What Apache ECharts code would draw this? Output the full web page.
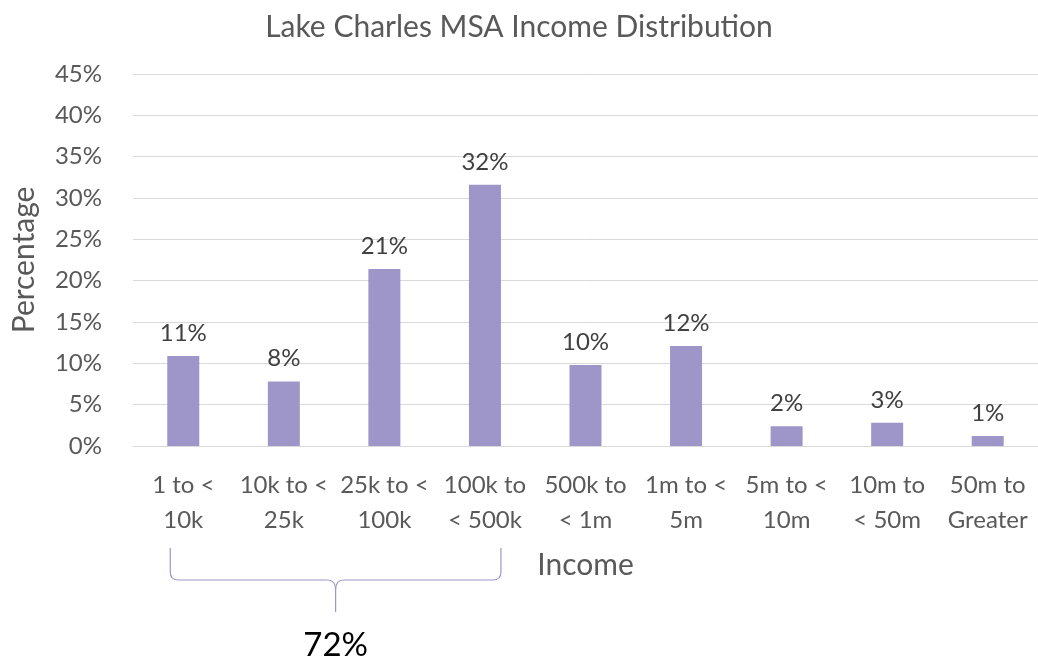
<!DOCTYPE html>
<html>
<head>
<meta charset="utf-8">
<script src="https://cdn.jsdelivr.net/npm/echarts@6/dist/echarts.min.js"></script>
<style>
html,body{margin:0;padding:0;background:#fff;}
#chart{width:1038px;height:661px;}
</style>
</head>
<body>
<div id="chart"></div>
<script>
var categories = ["1 to <\n10k", "10k to <\n25k", "25k to <\n100k", "100k to\n< 500k", "500k to\n< 1m", "1m to <\n5m", "5m to <\n10m", "10m to\n< 50m", "50m to\nGreater"];
var percentages = [10.9, 7.8, 21.4, 31.6, 9.8, 12.1, 2.4, 2.8, 1.2];
var yTicks = [0, 5, 10, 15, 20, 25, 30, 35, 40, 45];
var braceFrom = 0, braceTo = 3;
var braceLabel = "72%";

var FONT = "Lato, 'Open Sans', sans-serif";
var TXT = "#595959";
var BAR = "#9e95c8";

var chart = echarts.init(document.getElementById('chart'), null, {renderer: 'canvas'});
chart.setOption({
  animation: false,
  title: {
    text: "Lake Charles MSA Income Distribution",
    left: 'center', top: 7,
    textStyle: {fontFamily: FONT, fontSize: 30, fontWeight: 'normal', color: TXT}
  },
  grid: {left: 133, right: 0, top: 74, bottom: 215, containLabel: false},
  xAxis: {
    type: 'category',
    data: categories,
    name: "Income",
    nameLocation: 'middle',
    nameGap: 119,
    nameMoveOverlap: false,
    nameTextStyle: {fontFamily: FONT, fontSize: 30, color: TXT, verticalAlign: 'middle'},
    axisLine: {show: true, lineStyle: {color: '#d9d9d9', width: 1}},
    axisTick: {show: false},
    axisLabel: {interval: 0, margin: 22, fontFamily: FONT, fontSize: 24, color: TXT, lineHeight: 35, align: 'center'}
  },
  yAxis: {
    type: 'value',
    min: yTicks[0], max: yTicks[yTicks.length - 1], interval: yTicks[1] - yTicks[0],
    name: "Percentage",
    nameLocation: 'middle',
    nameGap: 109,
    nameMoveOverlap: false,
    nameRotate: 90,
    nameTextStyle: {fontFamily: FONT, fontSize: 30, color: TXT, verticalAlign: 'middle'},
    axisLine: {show: false},
    axisTick: {show: false},
    splitLine: {lineStyle: {color: '#d9d9d9', width: 1}},
    axisLabel: {margin: 31, fontFamily: FONT, fontSize: 24, color: TXT, formatter: function (v) { return v + '%'; }}
  },
  series: [{
    type: 'bar',
    data: percentages,
    barWidth: 32,
    itemStyle: {color: BAR},
    label: {
      show: true, position: 'top', distance: 11,
      fontFamily: FONT, fontSize: 24, color: '#404040',
      formatter: function (p) { return Math.round(p.value) + '%'; }
    }
  }]
});

function drawBrace() {
  var x1 = chart.convertToPixel({xAxisIndex: 0}, braceFrom) - 13;
  var x2 = chart.convertToPixel({xAxisIndex: 0}, braceTo) + 16;
  var xm = (x1 + x2) / 2;
  var yTop = 548, yMid = 580, yBot = 612, r = 8;
  var ls = {stroke: BAR, lineWidth: 1.2, fill: null};
  function line(ax, ay, bx, by) { return {type: 'line', shape: {x1: ax, y1: ay, x2: bx, y2: by}, style: ls}; }
  function curve(ax, ay, cx, cy, bx, by) { return {type: 'bezierCurve', shape: {x1: ax, y1: ay, cpx1: cx, cpy1: cy, x2: bx, y2: by}, style: ls}; }
  chart.setOption({
    graphic: [
      line(x1, yTop, x1, yMid - r),
      curve(x1, yMid - r, x1, yMid, x1 + r, yMid),
      line(x1 + r, yMid, xm - r, yMid),
      curve(xm - r, yMid, xm, yMid, xm, yMid + r + 2),
      curve(xm + r, yMid, xm, yMid, xm, yMid + r + 2),
      line(xm, yMid + r + 2, xm, yBot),
      line(xm + r, yMid, x2 - r, yMid),
      curve(x2 - r, yMid, x2, yMid, x2, yMid - r),
      line(x2, yMid - r, x2, yTop),
      {type: 'text', x: xm, y: 645, style: {text: braceLabel, fontFamily: FONT, fontSize: 33, fill: '#000', align: 'center', verticalAlign: 'middle'}}
    ]
  });
}
drawBrace();
</script>
</body>
</html>
